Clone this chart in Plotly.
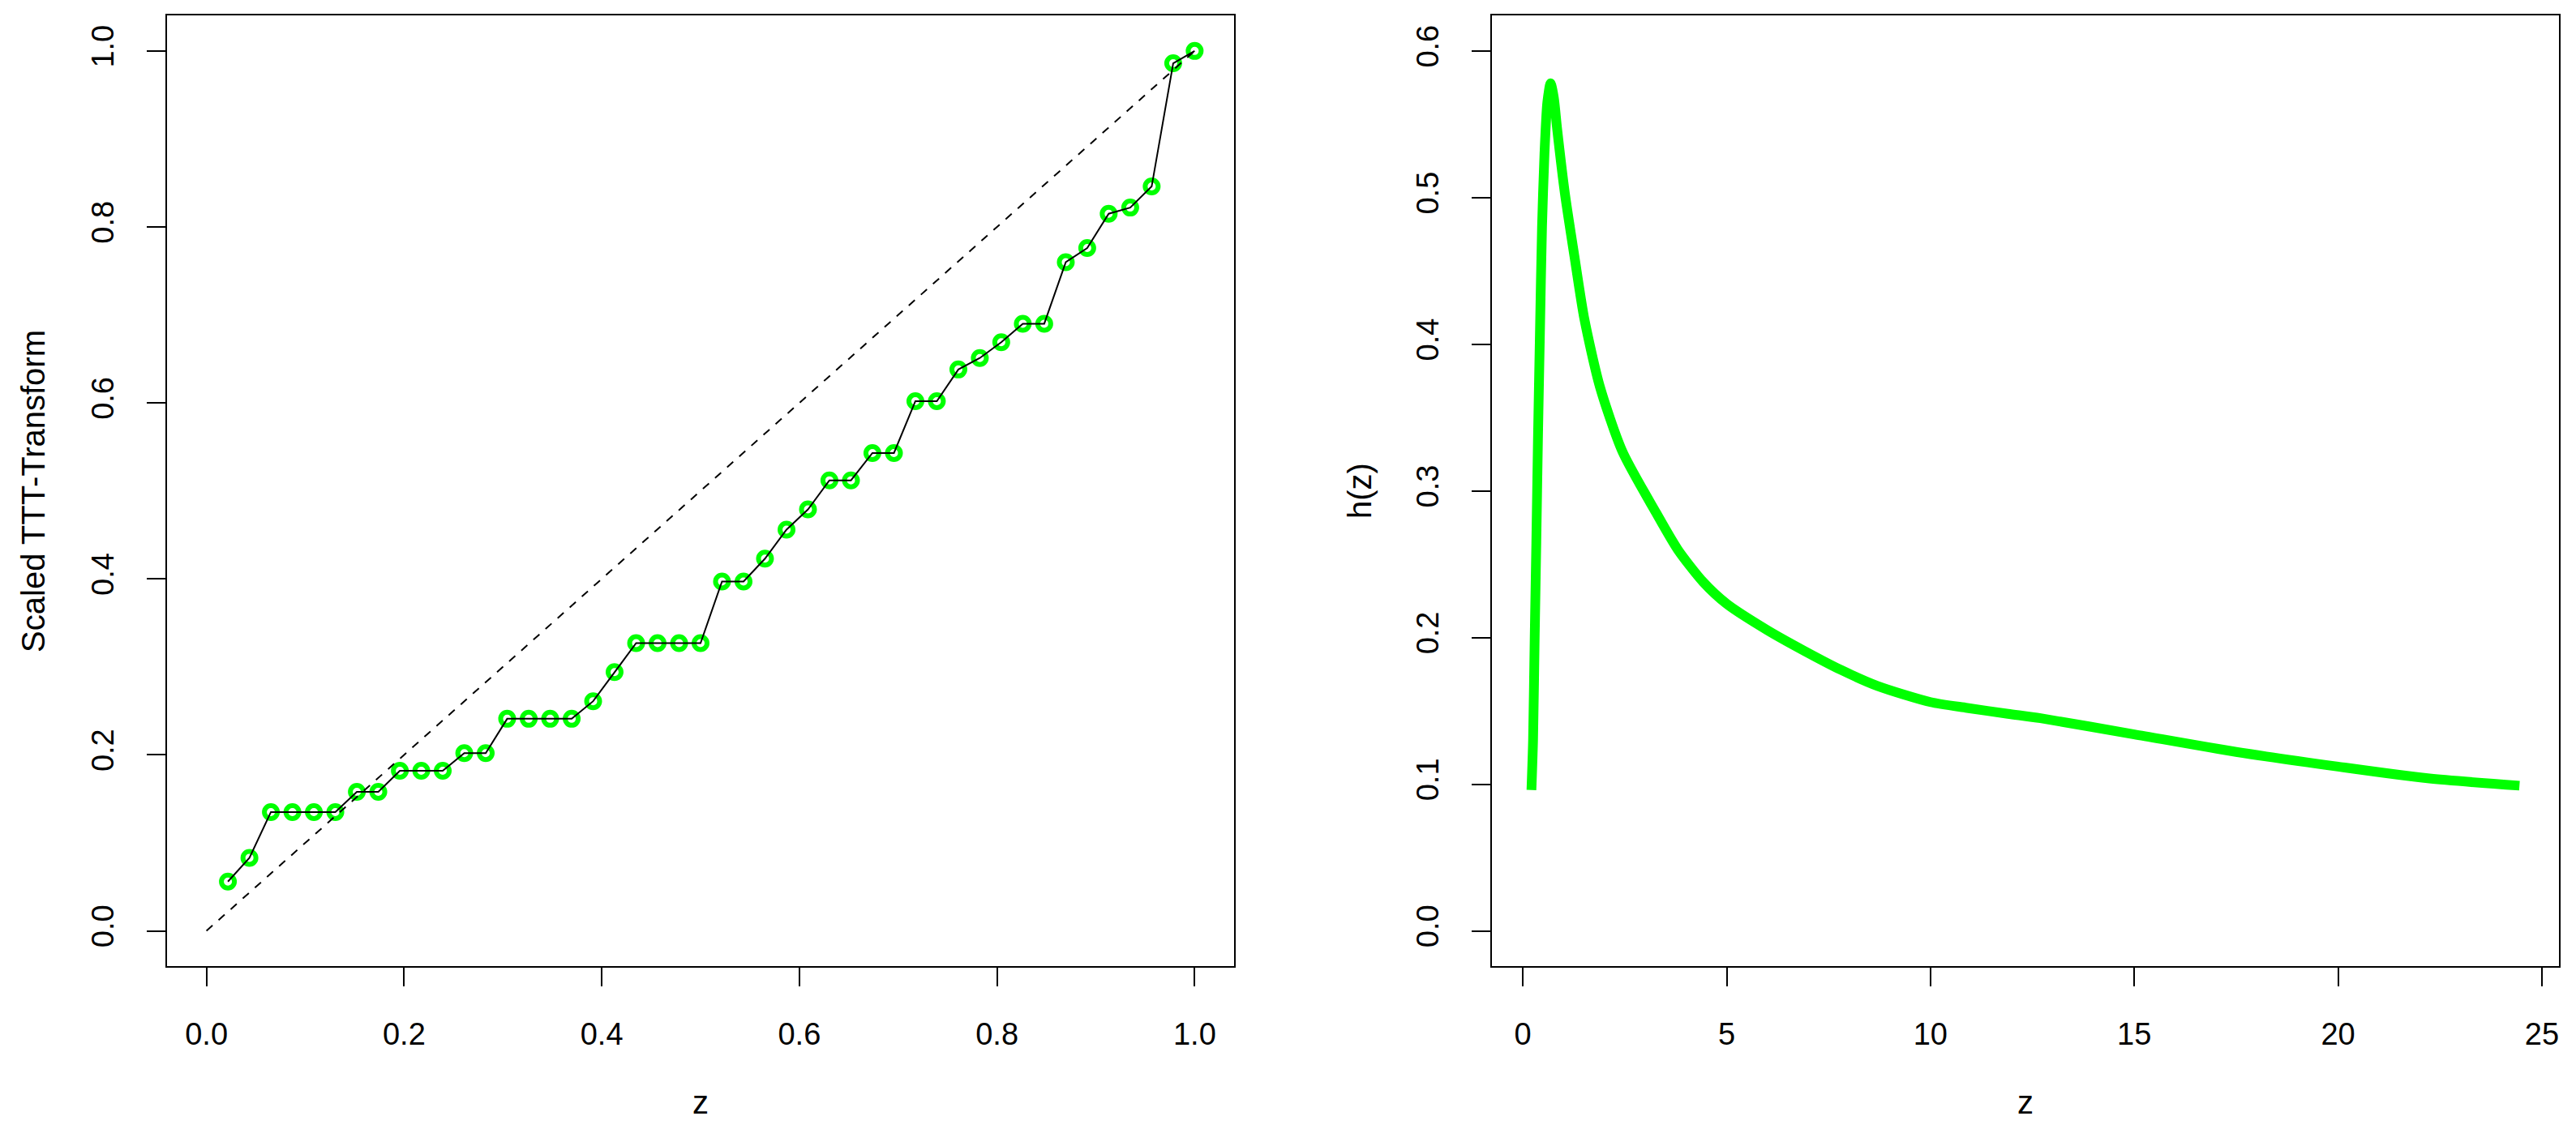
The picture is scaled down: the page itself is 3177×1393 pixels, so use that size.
import plotly.graph_objects as go

# Scaled TTT-transform points (left panel)
ttt_x = [0.0217, 0.0435, 0.0652, 0.0870, 0.1087, 0.1304, 0.1522, 0.1739, 0.1957, 0.2174,
         0.2391, 0.2609, 0.2826, 0.3043, 0.3261, 0.3478, 0.3696, 0.3913, 0.4130, 0.4348,
         0.4565, 0.4783, 0.5000, 0.5217, 0.5435, 0.5652, 0.5870, 0.6087, 0.6304, 0.6522,
         0.6739, 0.6957, 0.7174, 0.7391, 0.7609, 0.7826, 0.8043, 0.8261, 0.8478, 0.8696,
         0.8913, 0.9130, 0.9348, 0.9565, 0.9783, 1.0000]
ttt_y = [0.056, 0.083, 0.135, 0.135, 0.135, 0.135, 0.158, 0.158, 0.182, 0.182,
         0.182, 0.202, 0.202, 0.241, 0.241, 0.241, 0.241, 0.261, 0.294, 0.327,
         0.327, 0.327, 0.327, 0.397, 0.397, 0.423, 0.456, 0.479, 0.512, 0.512,
         0.543, 0.543, 0.602, 0.602, 0.638, 0.651, 0.669, 0.690, 0.690, 0.760,
         0.776, 0.815, 0.822, 0.846, 0.986, 1.000]
diag = [0.0, 1.0]

# hazard curve h(z) (right panel)
hz_z = [0.21, 0.25, 0.29, 0.33, 0.37, 0.42, 0.47, 0.53, 0.60, 0.68, 0.76, 0.84,
        1.03, 1.27, 1.51, 1.89, 2.44, 3.27, 3.80, 4.42, 5.0, 6.0, 6.9, 7.8, 8.7,
        10.0, 10.9, 11.9, 12.7, 15.0, 17.5, 20.0, 22.2, 24.45]
hz_h = [0.096, 0.130, 0.200, 0.265, 0.335, 0.410, 0.480, 0.530, 0.565, 0.578, 0.568, 0.547,
        0.503, 0.459, 0.417, 0.371, 0.327, 0.285, 0.260, 0.238, 0.223, 0.205, 0.191, 0.178, 0.167,
        0.156, 0.152, 0.148, 0.145, 0.134, 0.122, 0.112, 0.104, 0.099]

W, H = 3161, 1377
FONT = "Liberation Sans, Arial, sans-serif"
GREEN = "#00ff00"

fig = go.Figure()

fig.add_trace(go.Scatter(x=ttt_x, y=ttt_y, mode="markers", xaxis="x", yaxis="y",
                         marker=dict(symbol="circle-open", size=16, color=GREEN,
                                     line=dict(width=6, color=GREEN))))
fig.add_trace(go.Scatter(x=ttt_x, y=ttt_y, mode="lines", xaxis="x", yaxis="y",
                         line=dict(color="black", width=2)))
fig.add_trace(go.Scatter(x=diag, y=diag, mode="lines", xaxis="x", yaxis="y",
                         line=dict(color="black", width=2, dash="10px,10px")))
fig.add_trace(go.Scatter(x=hz_z, y=hz_h, mode="lines", xaxis="x2", yaxis="y2",
                         line=dict(color=GREEN, width=12, shape="spline", smoothing=0.7)))

axis_style = dict(showline=True, linecolor="black", linewidth=2, mirror=True,
                  ticks="outside", ticklen=23, tickwidth=2, tickcolor="black",
                  showgrid=False, zeroline=False, tickformat=".1f",
                  tickfont=dict(family=FONT, size=38, color="black"))

ydom = [0.1402, 0.9917]
fig.update_layout(
    width=W, height=H, margin=dict(l=0, r=0, t=0, b=0),
    paper_bgcolor="white", plot_bgcolor="white", showlegend=False,
    xaxis=dict(axis_style, domain=[0.0626, 0.4790], range=[-0.04, 1.04],
               tickvals=[0, 0.2, 0.4, 0.6, 0.8, 1.0], ticklabelstandoff=26),
    yaxis=dict(axis_style, domain=ydom, range=[-0.04, 1.04],
               tickvals=[0, 0.2, 0.4, 0.6, 0.8, 1.0], tickangle=-90, ticklabelstandoff=26),
    xaxis2=dict(axis_style, domain=[0.5796, 0.9959], range=[-0.757, 25.42],
                tickvals=[0, 5, 10, 15, 20, 25], tickformat="d", anchor="y2",
                ticklabelstandoff=26),
    yaxis2=dict(axis_style, domain=ydom, range=[-0.024, 0.624],
                tickvals=[0, 0.1, 0.2, 0.3, 0.4, 0.5, 0.6], tickangle=-90, anchor="x2",
                ticklabelstandoff=26),
)

lab = dict(family=FONT, size=40, color="black")
fig.add_annotation(text="z", x=0.2708, y=0.0185, xref="paper", yref="paper",
                   showarrow=False, font=lab, xanchor="center", yanchor="middle")
fig.add_annotation(text="z", x=0.7877, y=0.0185, xref="paper", yref="paper",
                   showarrow=False, font=lab, xanchor="center", yanchor="middle")
fig.add_annotation(text="Scaled TTT-Transform", x=0.0104, y=0.5657, xref="paper", yref="paper",
                   showarrow=False, font=lab, textangle=-90, xanchor="center", yanchor="middle")
fig.add_annotation(text="h(z)", x=0.5280, y=0.5657, xref="paper", yref="paper",
                   showarrow=False, font=lab, textangle=-90, xanchor="center", yanchor="middle")

fig.write_html("out.html")
